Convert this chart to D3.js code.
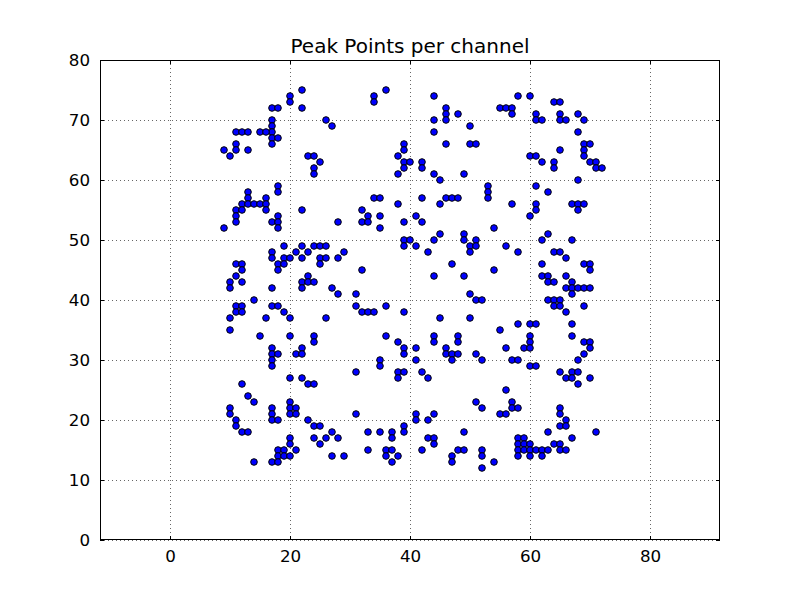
<!DOCTYPE html>
<html><head><meta charset="utf-8">
<script src="https://cdn.jsdelivr.net/npm/d3@7"></script>
<style>body{margin:0;background:#fff}svg{display:block}</style>
</head><body>
<svg id="c" width="800" height="600"></svg>
<script>
const titleText = "Peak Points per channel";
const xTicks = [0, 20, 40, 60, 80];
const yTicks = [0, 10, 20, 30, 40, 50, 60, 70, 80];
const points = [
[22,75],[20,74],[20,73],[17,72],[18,72],[22,72],[26,70],[27,69],[17,70],[17,69],[17,68],[15,68],[16,68],[11,68],[12,68],[13,68],[17,67],[18,67],[17,66],[11,66],[11,65],[9,65],[10,64],[13,65],[23,64],[24,64],[25,63],[24,62],[24,61],
[36,75],[34,74],[34,73],[44,74],[46,72],[46,71],[46,70],[48,71],[44,70],[50,69],[44,68],[39,66],[39,65],[46,66],[50,66],[38,64],[39,63],[40,63],[42,63],[42,62],[39,62],[38,61],[44,61],[49,61],[45,60],
[58,74],[60,74],[64,73],[65,73],[55,72],[56,72],[57,72],[57,71],[61,71],[61,70],[62,70],[65,71],[65,70],[66,70],[68,71],[69,70],[68,68],[51,66],[65,65],[69,66],[70,66],[69,65],[69,64],[60,64],[61,64],[62,63],[64,63],[64,62],[70,63],[71,63],[71,62],[72,62],[68,60],
[18,59],[18,58],[13,58],[13,57],[16,57],[12,56],[13,56],[14,56],[15,56],[16,56],[11,55],[12,55],[16,55],[22,55],[11,54],[18,54],[11,53],[17,53],[18,53],[18,52],[9,52],[28,53],[19,49],[22,49],[24,49],[25,49],[26,49],[17,48],[21,48],[23,48],[17,47],[19,47],[20,47],[22,47],[25,47],[26,47],[28,47],[29,48],[18,46],[19,46],[25,46],[11,46],[12,46],[12,45],[18,45],
[34,57],[35,57],[42,57],[46,57],[47,57],[48,57],[38,56],[45,56],[32,55],[33,54],[35,54],[32,53],[33,53],[35,52],[39,53],[41,54],[42,53],[39,50],[40,50],[39,49],[41,49],[43,48],[44,50],[45,51],[49,51],[49,50],[50,49],[50,48],[51,50],[51,49],[47,46],[32,45],[44,44],[49,44],
[53,59],[53,58],[53,57],[61,59],[63,58],[57,56],[61,56],[61,55],[67,56],[68,56],[69,56],[68,55],[60,54],[54,52],[63,51],[62,50],[67,50],[56,49],[58,48],[64,48],[65,48],[66,47],[62,46],[69,46],[70,46],[70,45],[54,45],[62,44],[63,44],[66,44],
[11,44],[10,43],[10,42],[12,43],[17,42],[23,44],[22,43],[23,43],[24,43],[22,42],[27,42],[28,41],[14,40],[11,39],[12,39],[11,38],[12,38],[17,39],[18,39],[19,38],[20,37],[10,37],[16,37],[26,37],[10,35],[15,34],[20,34],[24,34],[24,33],[17,32],[17,31],[17,30],[17,29],[18,31],[22,32],[21,31],[22,31],
[31,41],[50,41],[31,39],[32,38],[33,38],[34,38],[36,39],[39,38],[45,37],[50,37],[51,40],[52,40],[36,34],[38,33],[39,32],[39,31],[41,32],[44,34],[44,33],[48,34],[48,33],[46,32],[46,31],[47,31],[48,31],[47,30],[41,30],[35,30],[35,29],[51,31],[52,30],
[63,43],[64,43],[67,43],[66,42],[67,42],[68,42],[69,42],[70,42],[67,41],[63,40],[64,40],[65,40],[64,39],[65,39],[69,39],[66,38],[58,36],[60,36],[61,36],[67,36],[55,35],[60,34],[67,34],[60,33],[69,33],[70,33],[56,32],[59,32],[60,32],[70,32],[69,31],[57,30],[58,30],[68,30],[60,29],[61,29],
[20,27],[22,27],[23,26],[24,26],[12,26],[13,24],[14,23],[10,22],[10,21],[17,22],[17,21],[17,20],[18,20],[20,23],[20,22],[21,22],[20,21],[21,21],[11,20],[11,19],[12,18],[13,18],[23,20],[24,19],[25,19],[20,17],[20,16],[24,17],[26,17],[27,18],[28,17],[25,16],[18,15],[19,15],[21,15],[18,14],[19,14],[20,14],[14,13],[17,13],[18,13],[27,14],[29,14],
[31,28],[38,28],[39,28],[38,27],[42,28],[43,27],[51,23],[52,22],[31,21],[41,21],[41,20],[43,20],[44,21],[39,19],[39,18],[33,18],[35,18],[37,18],[37,17],[49,18],[43,17],[44,17],[44,16],[33,15],[36,15],[37,15],[36,14],[38,14],[37,13],[42,15],[47,14],[47,13],[48,15],[49,15],
[65,28],[67,28],[68,28],[66,27],[67,27],[68,26],[70,27],[56,25],[57,23],[57,22],[58,22],[55,21],[56,21],[65,22],[65,21],[66,20],[65,19],[66,19],[63,18],[71,18],[58,17],[59,17],[67,17],[58,16],[59,16],[60,16],[64,16],[65,16],[58,15],[59,15],[60,15],[61,15],[62,15],[63,15],[65,15],[66,15],[58,14],[60,14],[62,14],[52,15],[52,14],[54,13],[52,12]
];
const xValues = points.map(p => p[0]);
const yValues = points.map(p => p[1]);

const svg = d3.select("#c");
const L = 100, R = 720, T = 60, B = 540;
const x = d3.scaleLinear().domain([-70/6, 550/6]).range([L, R]);
const y = d3.scaleLinear().domain([0, 80]).range([B, T]);
const font = "'DejaVu Sans', sans-serif";

// grid
const g = svg.append("g");
g.selectAll(".gx").data(xTicks).join("line")
  .attr("x1", d => Math.round(x(d)) + 0.5).attr("x2", d => Math.round(x(d)) + 0.5)
  .attr("y1", T).attr("y2", B)
  .attr("stroke", "#000").attr("stroke-width", 0.6).attr("stroke-dasharray", "1,3");
g.selectAll(".gy").data(yTicks).join("line")
  .attr("y1", d => Math.round(y(d)) + 0.5).attr("y2", d => Math.round(y(d)) + 0.5)
  .attr("x1", L).attr("x2", R)
  .attr("stroke", "#000").attr("stroke-width", 0.6).attr("stroke-dasharray", "1,3");

// points
svg.append("g").selectAll("circle").data(xValues).join("circle")
  .attr("cx", (d, i) => x(d)).attr("cy", (d, i) => y(yValues[i]))
  .attr("r", 3.3).attr("fill", "#0000ff").attr("stroke", "#000").attr("stroke-width", 1);

// axes (inward ticks on all four sides)
const ax = svg.append("g").attr("font-family", font);
ax.append("g").attr("transform", `translate(0,${B})`)
  .call(d3.axisBottom(x).tickValues(xTicks).tickSizeInner(-4).tickSizeOuter(0).tickPadding(10));
ax.append("g").attr("transform", `translate(0,${T})`)
  .call(d3.axisTop(x).tickValues(xTicks).tickSizeInner(-4).tickSizeOuter(0).tickFormat(""));
ax.append("g").attr("transform", `translate(${L},0)`)
  .call(d3.axisLeft(y).tickValues(yTicks).tickSizeInner(-4).tickSizeOuter(0).tickPadding(10));
ax.append("g").attr("transform", `translate(${R},0)`)
  .call(d3.axisRight(y).tickValues(yTicks).tickSizeInner(-4).tickSizeOuter(0).tickFormat(""));
ax.selectAll(".domain").remove();
ax.selectAll("text").attr("font-size", "16.7px").attr("fill", "#000").attr("font-family", font);
ax.selectAll(".tick line").attr("stroke", "#000");

svg.append("rect").attr("x", L + 0.5).attr("y", T + 0.5).attr("width", R - L - 1).attr("height", B - T - 1)
  .attr("fill", "none").attr("stroke", "#000").attr("stroke-width", 1);

svg.append("text").attr("x", (L + R) / 2).attr("y", 53).attr("text-anchor", "middle")
  .attr("font-family", font).attr("font-size", "20px").attr("fill", "#000").text(titleText);
</script>
</body></html>
